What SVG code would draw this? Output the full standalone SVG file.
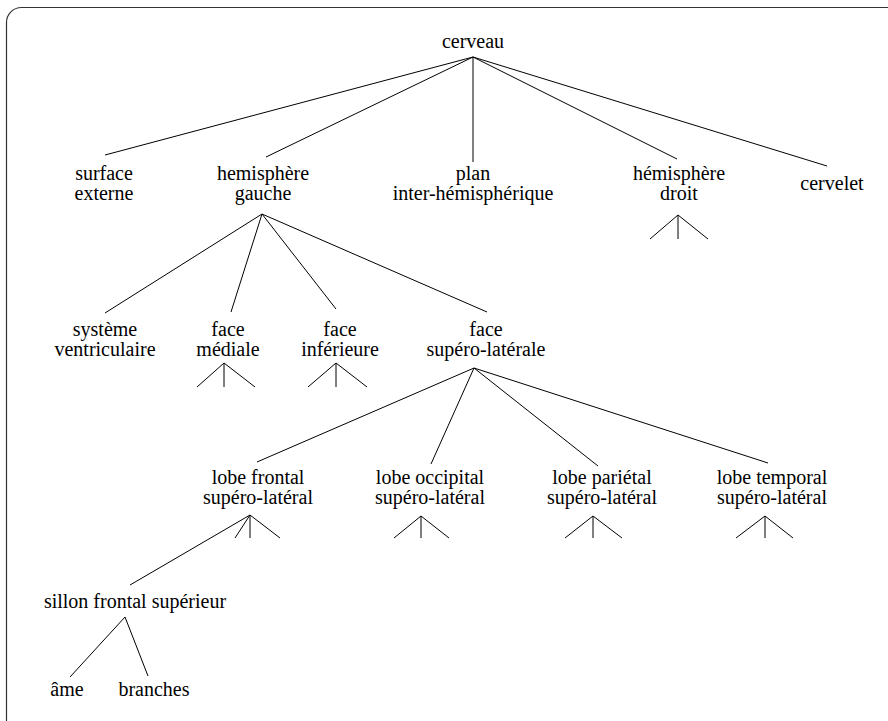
<svg xmlns="http://www.w3.org/2000/svg" width="888" height="721" viewBox="0 0 888 721">
<style>
text{font-size:20px;fill:#000;text-anchor:middle}
.c line,.c path{stroke:#000;stroke-width:1;fill:none}
</style>
<rect x="0" y="0" width="888" height="721" fill="#fff"/>
<rect x="6.5" y="7.5" width="920" height="730" rx="15" ry="15" fill="none" stroke="#333" stroke-width="1.2"/>
<g class="c" id="connectors">
<line x1="473" y1="57" x2="105" y2="155"/>
<line x1="473" y1="57" x2="266" y2="157"/>
<line x1="473" y1="57" x2="473" y2="162"/>
<line x1="473" y1="57" x2="677" y2="159"/>
<line x1="473" y1="57" x2="827" y2="166"/>
<line x1="262" y1="214" x2="105" y2="313"/>
<line x1="262" y1="214" x2="231" y2="312"/>
<line x1="262" y1="214" x2="336" y2="309"/>
<line x1="262" y1="214" x2="487" y2="312"/>
<line x1="474" y1="368" x2="257" y2="462"/>
<line x1="474" y1="368" x2="431" y2="464"/>
<line x1="474" y1="368" x2="598" y2="466"/>
<line x1="474" y1="368" x2="768" y2="463"/>
<line x1="250" y1="515" x2="130" y2="585"/>
<line x1="125" y1="617" x2="70" y2="677"/>
<line x1="125" y1="617" x2="148" y2="676"/>
<path d="M650 239L678 215L708 239M678 215V239"/>
<path d="M197 387L224 363L255 387M224 363V387"/>
<path d="M308 387L336 363L367 387M336 363V387"/>
<path d="M235 538L250 515L280 538M250 515V538"/>
<path d="M394 538L421 516L449 538M421 516V538"/>
<path d="M565 538L593 516L622 538M593 516V538"/>
<path d="M736 538L765 516L793 538M765 516V538"/>
</g>
<g font-family="'Liberation Serif', 'Times New Roman', 'DejaVu Serif', serif">
<g id="cerveau"><text x="473" y="48">cerveau</text></g>
<g id="surface-externe"><text x="104" y="180">surface</text><text x="104" y="200">externe</text></g>
<g id="hemisphere-gauche"><text x="263" y="180">hemisphère</text><text x="263" y="200">gauche</text></g>
<g id="plan"><text x="473" y="180">plan</text><text x="473" y="200">inter-hémisphérique</text></g>
<g id="hemisphere-droit"><text x="679" y="180">hémisphère</text><text x="679" y="200">droit</text></g>
<g id="cervelet"><text x="832" y="190">cervelet</text></g>
<g id="systeme-ventriculaire"><text x="105" y="336">système</text><text x="105" y="356">ventriculaire</text></g>
<g id="face-mediale"><text x="228" y="336">face</text><text x="228" y="356">médiale</text></g>
<g id="face-inferieure"><text x="340" y="336">face</text><text x="340" y="356">inférieure</text></g>
<g id="face-supero-laterale"><text x="486" y="336">face</text><text x="486" y="356">supéro-latérale</text></g>
<g id="lobe-frontal"><text x="258" y="484">lobe frontal</text><text x="258" y="504">supéro-latéral</text></g>
<g id="lobe-occipital"><text x="430" y="484">lobe occipital</text><text x="430" y="504">supéro-latéral</text></g>
<g id="lobe-parietal"><text x="602" y="484">lobe pariétal</text><text x="602" y="504">supéro-latéral</text></g>
<g id="lobe-temporal"><text x="772" y="484">lobe temporal</text><text x="772" y="504">supéro-latéral</text></g>
<g id="sillon-frontal-superieur"><text x="135" y="608">sillon frontal supérieur</text></g>
<g id="ame"><text x="67" y="696">âme</text></g>
<g id="branches"><text x="154" y="696">branches</text></g>
</g>
</svg>
